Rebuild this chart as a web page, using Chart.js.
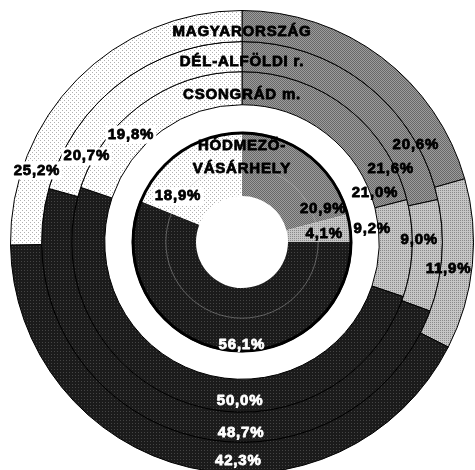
<!DOCTYPE html>
<html>
<head>
<meta charset="utf-8">
<script src="https://cdn.jsdelivr.net/npm/chart.js@4/dist/chart.umd.min.js"></script>
<style>
  html, body { margin: 0; padding: 0; background: #ffffff; overflow: hidden; }
  #wrap { position: absolute; left: 0; top: 0; width: 484px; height: 484px; }
</style>
</head>
<body>
<div id="wrap"><canvas id="chart"></canvas></div>
<script>
// Distribution shares (%) for each territorial level, four categories each
const categories = ['1. csoport', '2. csoport', '3. csoport', '4. csoport'];
const regionNames = ['MAGYARORSZÁG', 'DÉL-ALFÖLDI r.', 'CSONGRÁD m.', 'HÓDMEZŐ-VÁSÁRHELY'];
const magyarorszag = [20.6, 11.9, 42.3, 25.2];
const delAlfoldi = [21.6, 9.0, 48.7, 20.7];
const csongrad = [21.0, 9.2, 50.0, 19.8];
const hodmezovasarhely = [20.9, 4.1, 56.1, 18.9];

// Label placement inside each segment: [fraction along the arc, fraction across the ring]
const labelPlacement = [
  [[0.82, -0.04], [0.54, 0.25], [0.42, 0.58], [0.22, 0.54]],
  [[0.82, -0.15], [0.36, 0.23], [0.40, 0.67], [0.18, 0.23]],
  [[0.92, 0.14], [0.26, -0.19], [0.40, 0.64], [0.355, 0.52]],
  [[0.90, 0.65], [0.62, 0.57], [0.446, 0.89], [0.20, 0.51]]
];

function makePattern(size, base, dot, cells) {
  const c = document.createElement('canvas');
  c.width = size; c.height = size;
  const g = c.getContext('2d');
  g.fillStyle = base;
  g.fillRect(0, 0, size, size);
  g.fillStyle = dot;
  cells.forEach(([x, y]) => g.fillRect(x, y, 1, 1));
  return g.createPattern(c, 'repeat');
}

const fills = [
  makePattern(2, '#9c9c9c', '#686868', [[0, 0], [1, 1]]),
  makePattern(4, '#c6c6c6', '#8a8a8a', [[0, 0], [2, 2], [2, 0], [0, 2]]),
  makePattern(3, '#1b1b1b', '#444444', [[0, 0]]),
  makePattern(4, '#ffffff', '#b0b0b0', [[0, 0], [2, 2]])
];
const textColors = ['#000000', '#000000', '#ffffff', '#000000'];
const labelBoxes = [false, false, false, true];

const ringData = [magyarorszag, delAlfoldi, csongrad, hodmezovasarhely];
const ringWeights = [31, 30, 33, 64];
const gapWeight = 27;

const datasets = [];
ringData.forEach((vals, i) => {
  if (i === 3) {
    datasets.push({ label: 'gap', data: [1], backgroundColor: 'rgba(0,0,0,0)', borderWidth: 0, weight: gapWeight, isGap: true });
  }
  datasets.push({
    label: regionNames[i],
    data: vals,
    backgroundColor: fills,
    borderColor: '#000000',
    borderWidth: i === 3 ? 0 : 1,
    weight: ringWeights[i],
    ringIndex: i
  });
});

const FONT = 'bold 15px "Liberation Sans", Arial, sans-serif';

function fmt(v) { return v.toFixed(1).replace('.', ',') + '%'; }

function heavyText(ctx, txt, x, y, color) {
  ctx.fillStyle = color;
  ctx.strokeStyle = color;
  ctx.lineWidth = 0.8;
  ctx.lineJoin = 'round';
  ctx.strokeText(txt, x, y);
  ctx.fillText(txt, x, y);
}

const ringDecor = {
  id: 'ringDecor',
  afterDatasetsDraw(chart) {
    const ctx = chart.ctx;
    chart.data.datasets.forEach((ds, di) => {
      if (ds.isGap) return;
      const meta = chart.getDatasetMeta(di);
      const ri = ds.ringIndex;
      const a0 = meta.data[0].getProps(['x', 'y', 'innerRadius', 'outerRadius'], true);
      ctx.save();
      if (ri === 3) {
        // faint inner guide circle and heavy outer rim of the innermost ring
        ctx.strokeStyle = 'rgba(200,200,200,0.5)';
        ctx.lineWidth = 0.8;
        ctx.beginPath();
        ctx.arc(a0.x, a0.y, a0.innerRadius + 0.47 * (a0.outerRadius - a0.innerRadius), 0, Math.PI * 2);
        ctx.stroke();
        ctx.strokeStyle = '#000000';
        ctx.lineWidth = 3;
        ctx.beginPath();
        ctx.arc(a0.x, a0.y, a0.outerRadius - 1.2, 0, Math.PI * 2);
        ctx.stroke();
      }
      ctx.font = FONT;
      ctx.letterSpacing = '0.8px';
      ctx.textAlign = 'center';
      ctx.textBaseline = 'middle';
      meta.data.forEach((arc, j) => {
        const p = arc.getProps(['x', 'y', 'startAngle', 'endAngle', 'innerRadius', 'outerRadius'], true);
        const [along, across] = labelPlacement[ri][j];
        const ang = p.startAngle + along * (p.endAngle - p.startAngle);
        const r = p.innerRadius + across * (p.outerRadius - p.innerRadius);
        const tx = p.x + Math.cos(ang) * r;
        const ty = p.y + Math.sin(ang) * r;
        const txt = fmt(ds.data[j]);
        if (labelBoxes[j]) {
          const w = ctx.measureText(txt).width;
          ctx.fillStyle = '#ffffff';
          ctx.fillRect(tx - w / 2 - 2, ty - 9, w + 4, 18);
        }
        heavyText(ctx, txt, tx, ty, textColors[j]);
      });
      // ring name at the top of each ring
      const th = a0.outerRadius - a0.innerRadius;
      if (ri === 3) {
        const parts = ds.label.split('-');
        heavyText(ctx, parts[0] + '-', a0.x, a0.y - (a0.innerRadius + 0.78 * th), '#000000');
        heavyText(ctx, parts[1], a0.x, a0.y - (a0.innerRadius + 0.42 * th), '#000000');
      } else {
        heavyText(ctx, ds.label, a0.x, a0.y - (a0.innerRadius + 0.31 * th), '#000000');
      }
      ctx.restore();
    });
  }
};

new Chart(document.getElementById('chart'), {
  type: 'doughnut',
  data: { labels: categories, datasets: datasets },
  options: {
    responsive: true,
    maintainAspectRatio: false,
    animation: false,
    cutout: 46,
    layout: { padding: 10 },
    plugins: {
      legend: { display: false },
      tooltip: { enabled: false }
    }
  },
  plugins: [ringDecor]
});
</script>
</body>
</html>
